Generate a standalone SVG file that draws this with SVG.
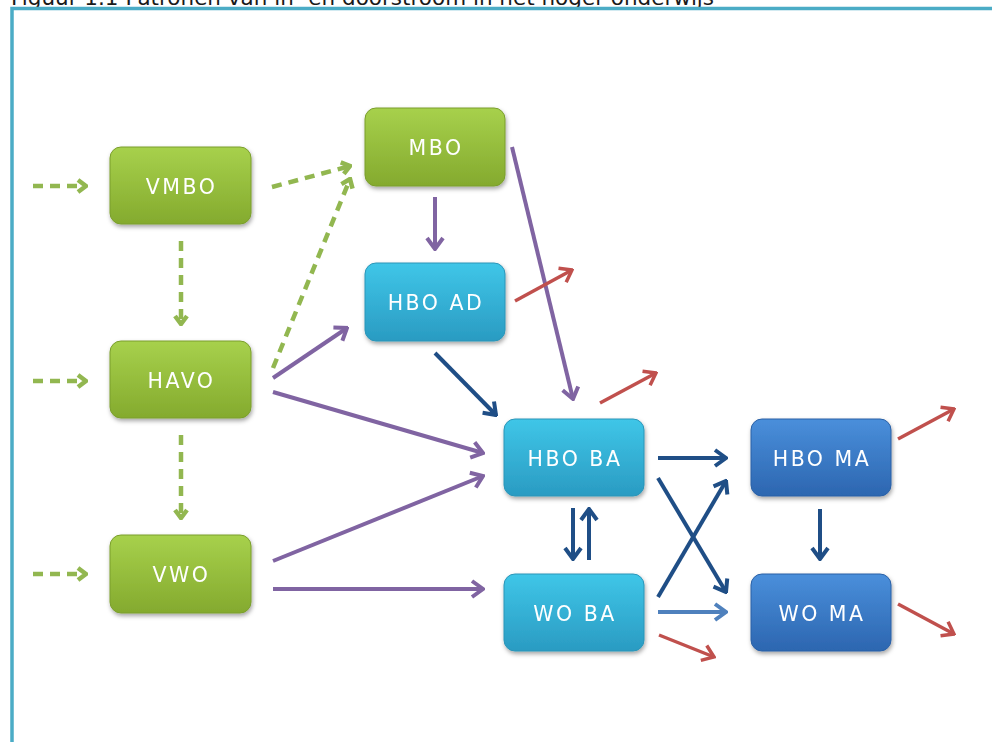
<svg xmlns="http://www.w3.org/2000/svg" width="992" height="742" viewBox="0 0 992 742">
<defs>
<style>
.title{font-family:"DejaVu Sans","Liberation Sans",sans-serif;font-size:21.5px;fill:#1a1a1a}
.lbl{font-family:"DejaVu Sans","Liberation Sans",sans-serif;font-size:20.5px;fill:#fff;text-anchor:middle;letter-spacing:2.5px}
.box{filter:url(#sh)}
.g{fill:url(#gG);stroke:#7a9e2c;stroke-width:1}
.b{fill:url(#gB);stroke:#2a95b8;stroke-width:1}
.d{fill:url(#gD);stroke:#2a60a6;stroke-width:1}
.dash{stroke:#92b750;stroke-width:4.5;fill:none;stroke-dasharray:10 7;marker-end:url(#mG)}
.pu{stroke:#8064a2;stroke-width:4;fill:none;marker-end:url(#mP)}
.bl{stroke:#1f4e86;stroke-width:4;fill:none;marker-end:url(#mB)}
.lb{stroke:#4f81bd;stroke-width:4;fill:none;marker-end:url(#mL)}
.rd{stroke:#c0504d;stroke-width:3.5;fill:none;marker-end:url(#mR)}
</style>
<linearGradient id="gG" x1="0" y1="0" x2="0" y2="1"><stop offset="0" stop-color="#a7d14c"/><stop offset="1" stop-color="#84aa2e"/></linearGradient>
<linearGradient id="gB" x1="0" y1="0" x2="0" y2="1"><stop offset="0" stop-color="#3fc6e8"/><stop offset="1" stop-color="#2a9bc2"/></linearGradient>
<linearGradient id="gD" x1="0" y1="0" x2="0" y2="1"><stop offset="0" stop-color="#4a8fdb"/><stop offset="1" stop-color="#2c66b0"/></linearGradient>
<filter id="sh" x="-10%" y="-10%" width="125%" height="130%"><feDropShadow dx="1" dy="2.5" stdDeviation="2" flood-color="#000" flood-opacity="0.35"/></filter>
<marker id="mG" viewBox="-12 -10 14 20" markerWidth="14" markerHeight="20" refX="0" refY="0" orient="auto" markerUnits="userSpaceOnUse"><path d="M-8,-6 L0,0 L-8,6" fill="none" stroke="#92b750" stroke-width="4.5"/></marker>
<marker id="mP" viewBox="-14 -10 16 20" markerWidth="16" markerHeight="20" refX="0" refY="0" orient="auto" markerUnits="userSpaceOnUse"><path d="M-11,-8 L0,0 L-11,8" fill="none" stroke="#8064a2" stroke-width="4"/></marker>
<marker id="mB" viewBox="-14 -10 16 20" markerWidth="16" markerHeight="20" refX="0" refY="0" orient="auto" markerUnits="userSpaceOnUse"><path d="M-11,-8 L0,0 L-11,8" fill="none" stroke="#1f4e86" stroke-width="4"/></marker>
<marker id="mL" viewBox="-14 -10 16 20" markerWidth="16" markerHeight="20" refX="0" refY="0" orient="auto" markerUnits="userSpaceOnUse"><path d="M-11,-8 L0,0 L-11,8" fill="none" stroke="#4f81bd" stroke-width="4"/></marker>
<marker id="mR" viewBox="-14 -10 16 20" markerWidth="16" markerHeight="20" refX="0" refY="0" orient="auto" markerUnits="userSpaceOnUse"><path d="M-11,-8 L0,0 L-11,8" fill="none" stroke="#c0504d" stroke-width="3.5"/></marker>
</defs>
<rect width="992" height="742" fill="#fff"/>
<text class="title" x="11" y="5">Figuur 1.1 Patronen van in- en doorstroom in het hoger onderwijs</text>
<path d="M12,760 V8.5 H1000" fill="none" stroke="#4bacc6" stroke-width="3.5"/>

<g id="connectors">
<line class="dash" x1="33" y1="186" x2="86" y2="186"/>
<line class="dash" x1="33" y1="381" x2="86" y2="381"/>
<line class="dash" x1="33" y1="574" x2="86" y2="574"/>
<line class="dash" x1="181" y1="241" x2="181" y2="324"/>
<line class="dash" x1="181" y1="435" x2="181" y2="518"/>
<line class="dash" x1="272" y1="187" x2="350" y2="166"/>
<line class="dash" x1="273" y1="368" x2="350" y2="179"/>
<line class="pu" x1="273" y1="378" x2="347" y2="328"/>
<line class="pu" x1="273" y1="392" x2="483" y2="453"/>
<line class="pu" x1="273" y1="561" x2="483" y2="476"/>
<line class="pu" x1="273" y1="589" x2="483" y2="589"/>
<line class="pu" x1="435" y1="197" x2="435" y2="249"/>
<line class="pu" x1="512" y1="147" x2="573" y2="399"/>
<line class="bl" x1="435" y1="353" x2="496" y2="415"/>
<line class="bl" x1="658" y1="458" x2="726" y2="458"/>
<line class="bl" x1="658" y1="478" x2="726" y2="592"/>
<line class="bl" x1="658" y1="597" x2="726" y2="481"/>
<line class="lb" x1="658" y1="612" x2="726" y2="612"/>
<line class="bl" x1="573" y1="508" x2="573" y2="559"/>
<line class="bl" x1="589" y1="560" x2="589" y2="509"/>
<line class="bl" x1="820" y1="509" x2="820" y2="559"/>
<line class="rd" x1="515" y1="301" x2="572" y2="270"/>
<line class="rd" x1="600" y1="403" x2="656" y2="373"/>
<line class="rd" x1="898" y1="439" x2="954" y2="409"/>
<line class="rd" x1="659" y1="635" x2="714" y2="657"/>
<line class="rd" x1="898" y1="604" x2="954" y2="634"/>
</g>

<g id="VMBO" class="box"><rect class="g" x="110" y="147" width="141" height="77" rx="11"/><text class="lbl" x="181.5" y="194">VMBO</text></g>
<g id="HAVO" class="box"><rect class="g" x="110" y="341" width="141" height="77" rx="11"/><text class="lbl" x="181.5" y="388">HAVO</text></g>
<g id="VWO" class="box"><rect class="g" x="110" y="535" width="141" height="78" rx="11"/><text class="lbl" x="181.5" y="582">VWO</text></g>
<g id="MBO" class="box"><rect class="g" x="365" y="108" width="140" height="78" rx="11"/><text class="lbl" x="436" y="155">MBO</text></g>
<g id="HBO_AD" class="box"><rect class="b" x="365" y="263" width="140" height="78" rx="11"/><text class="lbl" x="436" y="310">HBO AD</text></g>
<g id="HBO_BA" class="box"><rect class="b" x="504" y="419" width="140" height="77" rx="11"/><text class="lbl" x="575" y="466">HBO BA</text></g>
<g id="WO_BA" class="box"><rect class="b" x="504" y="574" width="140" height="77" rx="11"/><text class="lbl" x="575" y="621">WO BA</text></g>
<g id="HBO_MA" class="box"><rect class="d" x="751" y="419" width="140" height="77" rx="11"/><text class="lbl" x="822" y="466">HBO MA</text></g>
<g id="WO_MA" class="box"><rect class="d" x="751" y="574" width="140" height="77" rx="11"/><text class="lbl" x="822" y="621">WO MA</text></g>
</svg>
